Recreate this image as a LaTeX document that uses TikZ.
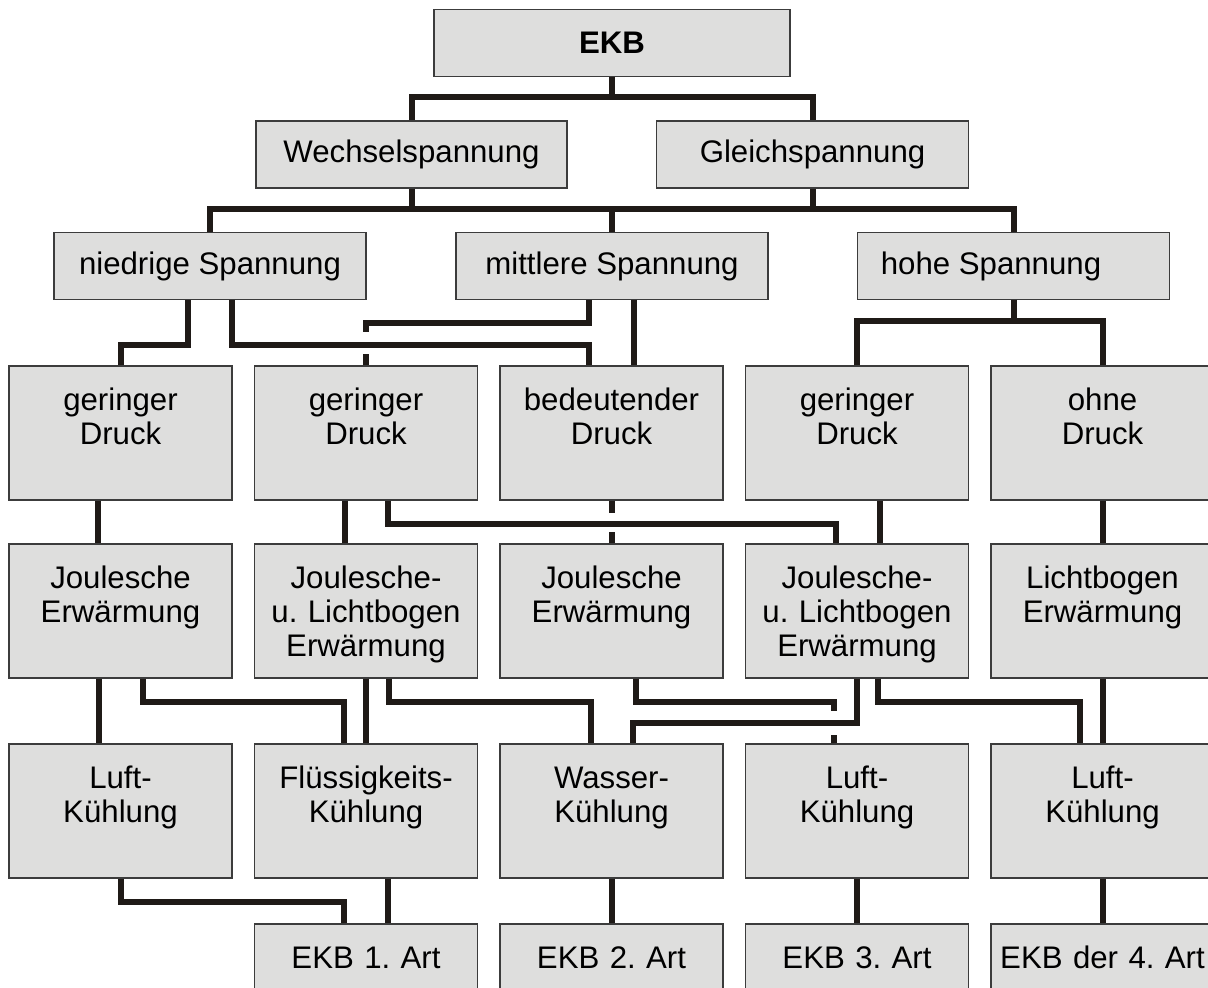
\documentclass[tikz,border=0pt]{standalone}
\usepackage{fontspec}
\setmainfont{Liberation Sans}
\usetikzlibrary{positioning}
\frenchspacing

\definecolor{linie}{RGB}{31,26,23}
\definecolor{kastengrau}{RGB}{222,222,221}
\definecolor{rahmen}{RGB}{60,60,60}

\tikzset{
  kasten/.style={draw=rahmen, fill=kastengrau, line width=0.6pt, inner sep=0pt,
    font=\fontsize{15.6}{17}\selectfont},
  breit/.style={kasten, minimum width=156pt, minimum height=33.3pt},
  hoch/.style={kasten, text width=111.5pt, align=center, text height=22pt, text depth=45pt},
  verb/.style={draw=linie, line width=3pt}
}

\begin{document}
\begin{tikzpicture}[x=0.5pt, y=-0.5pt, node distance=122.75pt, on grid]
   \useasboundingbox (0,0) rectangle (1208,987);
   \clip (0,0) rectangle (1208,987);
   % obere Ebenen
   \node[breit, minimum width=178pt] (ekb) at (612,43) {\textbf{EKB}};
   \node[breit, minimum width=155.5pt, minimum height=33.5pt] (wech) at (411.5,154.5) {Wechselspannung};
   \node[breit, minimum height=33.5pt] (gleich) at (812.5,154.5) {Gleichspannung};
   \node[breit] (nied) at (210,266) {niedrige Spannung};
   \node[breit] (mitt) at (612,266) {mittlere Spannung};
   \node[breit] (hoh) at (1013.5,266) {hohe Spannung\hspace*{22.5pt}};
   % Druck
   \node[hoch] (d1) at (120.5,433) {geringer\\Druck};
   \node[hoch] (d2) [right=of d1] {geringer\\Druck};
   \node[hoch] (d3) [right=of d2] {bedeutender\\Druck};
   \node[hoch] (d4) [right=of d3] {geringer\\Druck};
   \node[hoch] (d5) [right=of d4] {ohne\\Druck};
   % Erwaermung
   \node[hoch] (j1) at (120.5,611) {Joulesche\\Erwärmung};
   \node[hoch] (j2) [right=of j1] {Joulesche-\\u. Lichtbogen\\Erwärmung};
   \node[hoch] (j3) [right=of j2] {Joulesche\\Erwärmung};
   \node[hoch] (j4) [right=of j3] {Joulesche-\\u. Lichtbogen\\Erwärmung};
   \node[hoch] (j5) [right=of j4] {Lichtbogen\\Erwärmung};
   % Kuehlung
   \node[hoch] (k1) at (120.5,811) {Luft-\\Kühlung};
   \node[hoch] (k2) [right=of k1] {Flüssigkeits-\\Kühlung};
   \node[hoch] (k3) [right=of k2] {Wasser-\\Kühlung};
   \node[hoch] (k4) [right=of k3] {Luft-\\Kühlung};
   \node[hoch] (k5) [right=of k4] {Luft-\\Kühlung};
   % Arten
   \node[hoch] (e1) at (366,991) {EKB 1. Art};
   \node[hoch] (e2) [right=of e1] {EKB 2. Art};
   \node[hoch] (e3) [right=of e2] {EKB 3. Art};
   \node[hoch] (e4) [right=of e3] {EKB der 4. Art};

   % EKB -> Spannungsart
   \draw[verb] (ekb.south) -- ++(0,22);
   \draw[verb] (wech.north) -- ++(0,-23) -| (gleich.north);
   % Spannungsart -> Spannungshoehe
   \draw[verb] (wech.south) -- ++(0,22);
   \draw[verb] (gleich.south) -- ++(0,22);
   \draw[verb] (nied.north) -- ++(0,-23) -| (hoh.north);
   \draw[verb] (mitt.north) -- ++(0,-23);
   % Spannungshoehe -> Druck
   \draw[verb] ([xshift=-11pt]nied.south) -- ++(0,45) -| (d1.north);
   \draw[verb] ([xshift=11pt]nied.south) -- ++(0,45) -| ([xshift=-11.25pt]d3.north);
   \draw[verb] ([xshift=-11.5pt]mitt.south) -- ++(0,23) -| ([yshift=16.5pt]d2.north);
   \draw[verb] (d2.north) -- ++(0,-11);
   \draw[verb] ([xshift=11pt]mitt.south) -- ([xshift=11.25pt]d3.north);
   \draw[verb] (hoh.south) -- ++(0,23);
   \draw[verb] (d4.north) -- ++(0,-44) -| (d5.north);
   % Druck -> Erwaermung
   \draw[verb] ([xshift=-11.25pt]d1.south) -- ([xshift=-11.25pt]j1.north);
   \draw[verb] ([xshift=-10.5pt]d2.south) -- ([xshift=-10.5pt]j2.north);
   \draw[verb] ([xshift=11pt]d2.south) -- ++(0,23) -| ([xshift=-10.5pt]j4.north);
   \draw[verb] (d3.south) -- ++(0,12);
   \draw[verb] (j3.north) -- ++(0,-11);
   \draw[verb] ([xshift=11.5pt]d4.south) -- ([xshift=11.5pt]j4.north);
   % Erwaermung -> Kuehlung
   \draw[verb] ([xshift=-11pt]j1.south) -- ([xshift=-11pt]k1.north);
   \draw[verb] ([xshift=11pt]j1.south) -- ++(0,23) -| ([xshift=-11pt]k2.north);
   \draw[verb] ([xshift=11.5pt]j2.south) -- ++(0,23) -| ([xshift=-10.5pt]k3.north);
   \draw[verb] ([xshift=12pt]j3.south) -- ++(0,23) -| ([xshift=-11.5pt,yshift=16pt]k4.north);
   \draw[verb] ([xshift=-11.5pt]k4.north) -- ++(0,-8);
   \draw[verb] (j4.south) -- ++(0,44) -| ([xshift=10.75pt]k3.north);
   \draw[verb] ([xshift=10.5pt]j4.south) -- ++(0,23) -| ([xshift=-11.5pt]k5.north);
   % Kuehlung -> Art
   \draw[verb] (k1.south) -- ++(0,23) -| ([xshift=-11pt]e1.north);
   \draw[verb] ([xshift=11pt]k2.south) -- ([xshift=11pt]e1.north);
   \path[verb]
    (d5) edge (j5)
    (j2) edge (k2)
    (j5) edge (k5)
    (k3) edge (e2)
    (k4) edge (e3)
    (k5) edge (e4);
\end{tikzpicture}
\end{document}
